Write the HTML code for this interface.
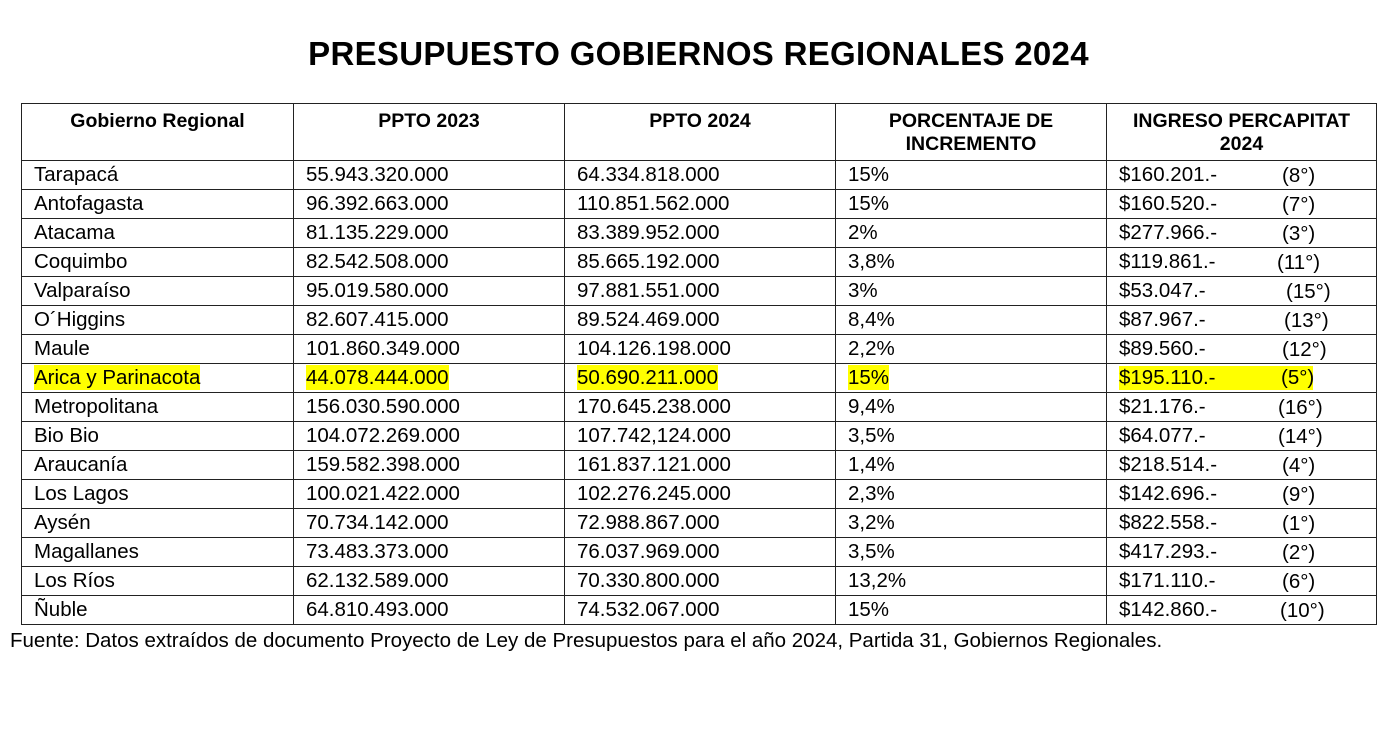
<!DOCTYPE html>
<html><head><meta charset="utf-8"><style>
body{margin:0;width:1397px;height:735px;background:#fff;position:relative;overflow:hidden;font-family:"Liberation Sans",sans-serif;color:#000}
h1{position:absolute;left:0;width:1397px;top:35px;margin:0;text-align:center;font-size:33px;font-weight:bold;letter-spacing:0.3px}
table{position:absolute;left:21px;top:103px;border-collapse:collapse;table-layout:fixed}
td{border:1.5px solid #222;padding:0 0 0 12px;height:28px;line-height:22px;font-size:20.5px;white-space:nowrap;vertical-align:middle;position:relative}
th{border:1.5px solid #222;height:50px;font-size:19.5px;font-weight:bold;vertical-align:top;padding:6px 0 0 0;line-height:23px}
.h{background:#ffff00;padding:1px 0}
.h5{display:inline-block;width:194px;position:relative}
.r{position:absolute;top:4px}
.f{position:absolute;left:10px;top:629px;font-size:20.5px}
</style></head><body>
<h1>PRESUPUESTO GOBIERNOS REGIONALES 2024</h1>
<table>
<colgroup><col style="width:272px"><col style="width:271px"><col style="width:271px"><col style="width:271px"><col style="width:270px"></colgroup>
<tr><th>Gobierno Regional</th><th>PPTO 2023</th><th>PPTO 2024</th><th>PORCENTAJE DE<br>INCREMENTO</th><th>INGRESO PERCAPITAT<br>2024</th></tr>
<tr><td>Tarapacá</td><td>55.943.320.000</td><td>64.334.818.000</td><td>15%</td><td>$160.201.-<span class="r" style="left:175px">(8°)</span></td></tr>
<tr><td>Antofagasta</td><td>96.392.663.000</td><td>110.851.562.000</td><td>15%</td><td>$160.520.-<span class="r" style="left:175px">(7°)</span></td></tr>
<tr><td>Atacama</td><td>81.135.229.000</td><td>83.389.952.000</td><td>2%</td><td>$277.966.-<span class="r" style="left:175px">(3°)</span></td></tr>
<tr><td>Coquimbo</td><td>82.542.508.000</td><td>85.665.192.000</td><td>3,8%</td><td>$119.861.-<span class="r" style="left:170px">(11°)</span></td></tr>
<tr><td>Valparaíso</td><td>95.019.580.000</td><td>97.881.551.000</td><td>3%</td><td>$53.047.-<span class="r" style="left:179px">(15°)</span></td></tr>
<tr><td>O´Higgins</td><td>82.607.415.000</td><td>89.524.469.000</td><td>8,4%</td><td>$87.967.-<span class="r" style="left:177px">(13°)</span></td></tr>
<tr><td>Maule</td><td>101.860.349.000</td><td>104.126.198.000</td><td>2,2%</td><td>$89.560.-<span class="r" style="left:175px">(12°)</span></td></tr>
<tr><td><span class="h">Arica y Parinacota</span></td><td><span class="h">44.078.444.000</span></td><td><span class="h">50.690.211.000</span></td><td><span class="h">15%</span></td><td><span class="h h5">$195.110.-<span style="position:absolute;left:162px">(5°)</span></span></td></tr>
<tr><td>Metropolitana</td><td>156.030.590.000</td><td>170.645.238.000</td><td>9,4%</td><td>$21.176.-<span class="r" style="left:171px">(16°)</span></td></tr>
<tr><td>Bio Bio</td><td>104.072.269.000</td><td>107.742,124.000</td><td>3,5%</td><td>$64.077.-<span class="r" style="left:171px">(14°)</span></td></tr>
<tr><td>Araucanía</td><td>159.582.398.000</td><td>161.837.121.000</td><td>1,4%</td><td>$218.514.-<span class="r" style="left:175px">(4°)</span></td></tr>
<tr><td>Los Lagos</td><td>100.021.422.000</td><td>102.276.245.000</td><td>2,3%</td><td>$142.696.-<span class="r" style="left:175px">(9°)</span></td></tr>
<tr><td>Aysén</td><td>70.734.142.000</td><td>72.988.867.000</td><td>3,2%</td><td>$822.558.-<span class="r" style="left:175px">(1°)</span></td></tr>
<tr><td>Magallanes</td><td>73.483.373.000</td><td>76.037.969.000</td><td>3,5%</td><td>$417.293.-<span class="r" style="left:175px">(2°)</span></td></tr>
<tr><td>Los Ríos</td><td>62.132.589.000</td><td>70.330.800.000</td><td>13,2%</td><td>$171.110.-<span class="r" style="left:175px">(6°)</span></td></tr>
<tr><td>Ñuble</td><td>64.810.493.000</td><td>74.532.067.000</td><td>15%</td><td>$142.860.-<span class="r" style="left:173px">(10°)</span></td></tr>
</table>
<div class="f">Fuente: Datos extraídos de documento Proyecto de Ley de Presupuestos para el año 2024, Partida 31, Gobiernos Regionales.</div>
</body></html>
